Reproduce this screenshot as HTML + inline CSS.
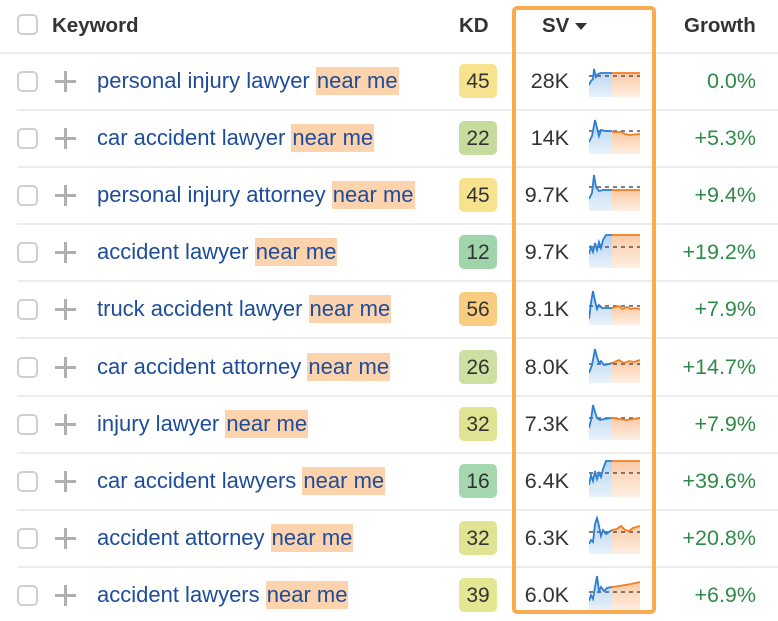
<!DOCTYPE html>
<html><head><meta charset="utf-8"><style>
body{margin:0;width:778px;height:621px;background:#fff;font-family:"Liberation Sans",sans-serif;position:relative;overflow:hidden}
.a{position:absolute}
.cb{position:absolute;left:17px;width:21px;height:21px;border:2px solid #cfcfcf;border-radius:5px;box-sizing:border-box;background:#fff}
.hd{font-weight:bold;font-size:20.5px;color:#333}
.kw{position:absolute;left:97px;font-size:22px;color:#1d4c9a;white-space:nowrap;line-height:28px}
.kw span{background:#fdd3ae;padding:1px 1px 2px}
.kd{position:absolute;left:459px;width:38px;height:34px;border-radius:5px;font-size:21px;color:#333;text-align:center;line-height:36px}
.sv{position:absolute;right:209px;font-size:21.5px;color:#333}
.gr{position:absolute;right:22px;font-size:21.5px;color:#2e8b47}
.ln{position:absolute;left:17px;right:0;height:2px;background:#ececec}
.pl{position:absolute;left:55px;width:21px;height:21px}
.pl:before{content:"";position:absolute;left:0;top:9px;width:21px;height:3px;background:#b0b0b0}
.pl:after{content:"";position:absolute;left:9px;top:0;width:3px;height:21px;background:#b0b0b0}
svg{position:absolute;left:589px}
</style></head><body>
<div class="cb" style="top:14px"></div>
<div class="a hd" style="left:52px;top:14px">Keyword</div>
<div class="a hd" style="left:459px;top:14px">KD</div>
<div class="a hd" style="left:542px;top:14px">SV</div>
<div class="a" style="left:575px;top:23px;width:0;height:0;border-left:6px solid transparent;border-right:6px solid transparent;border-top:7px solid #333"></div>
<div class="a hd" style="left:684px;top:14px">Growth</div>
<div class="a" style="left:0;right:0;top:52px;height:2px;background:#ececec"></div>

<div id="rows"></div>
<div class="a" style="left:512px;top:6px;width:144px;height:608px;border:4px solid #f9ac4f;border-radius:5px;box-sizing:border-box"></div>
<script>
var R=[
["personal injury lawyer ","45","#f7e38d","28K","0.0%","0,26 2,22 4,20 5,10 7,18 9,15 12,14 23,14","23,14 51,14",17],
["car accident lawyer ","22","#c7dc9c","14K","+5.3%","0,26 3,20 6,4 8,12 10,20 12,14 16,15 23,15","23,16 32,16 36,18 40,19 51,18",15],
["personal injury attorney ","45","#f7e38d","9.7K","+9.4%","0,26 3,20 5,2 7,14 10,18 14,17 23,17","23,17 51,17",14],
["accident lawyer ","12","#a0d5ab","9.7K","+19.2%","0,24 2,17 4,22 6,13 8,20 10,12 12,18 14,10 17,5 23,5","23,5 51,5",17],
["truck accident lawyer ","56","#f9cd7f","8.1K","+7.9%","0,32 2,16 4,4 6,14 8,22 10,18 13,21 23,21","23,21 30,19 33,22 38,20 42,22 46,21 51,22",19],
["car accident attorney ","26","#cde0a2","8.0K","+14.7%","0,28 3,20 6,4 8,12 10,18 12,16 15,20 20,19 23,18","23,18 30,15 35,18 40,16 45,17 51,15",19],
["injury lawyer ","32","#e0e492","7.3K","+7.9%","0,26 2,18 4,3 6,10 8,16 11,18 15,17 23,16","23,16 30,17 37,18 44,17 51,16",16],
["car accident lawyers ","16","#a6d8b0","6.4K","+39.6%","0,26 2,16 4,22 6,12 8,20 10,14 12,18 14,10 17,2 23,2","23,2 51,2",14],
["accident attorney ","32","#e0e492","6.3K","+20.8%","0,28 2,24 4,26 6,8 8,2 10,10 12,20 14,14 17,18 20,16 23,14","23,14 28,13 32,10 36,14 40,15 44,12 51,10",16],
["accident lawyers ","39","#e4e691","6.0K","+6.9%","0,28 2,22 4,26 6,14 8,3 10,18 12,14 15,18 18,15 23,14","23,14 30,13 36,12 42,11 51,9",19]];
var h="";
R.forEach(function(r,i){var c=81+i*57.1;
h+='<div class="cb" style="top:'+(c-10)+'px"></div><div class="pl" style="top:'+(c-10)+'px"></div>';
h+='<div class="kw" style="top:'+(c-14)+'px">'+r[0]+'<span>near me</span></div>';
h+='<div class="kd" style="top:'+(c-17)+'px;background:'+r[2]+'">'+r[1]+'</div>';
h+='<div class="sv" style="top:'+(c-12)+'px">'+r[3]+'</div>';
h+='<div class="gr" style="top:'+(c-12)+'px">'+r[4]+'</div>';
var b=r[5],o=r[6];
h+='<svg width="52" height="40" style="top:'+(c-22)+'px"><defs><linearGradient id="gb" x1="0" y1="0" x2="0" y2="1"><stop offset="0" stop-color="#b3d2ef"/><stop offset="1" stop-color="#e8f2fb"/></linearGradient><linearGradient id="go" x1="0" y1="0" x2="0" y2="1"><stop offset="0" stop-color="#fcc9a4"/><stop offset="1" stop-color="#feefe4"/></linearGradient></defs>'+
'<polygon points="'+b+' 23,38 0,38" fill="url(#gb)"/><polygon points="'+o+' 51,38 23,38" fill="url(#go)"/>'+
'<line x1="0" y1="'+r[7]+'" x2="51" y2="'+r[7]+'" stroke="#555" stroke-width="1.5" stroke-dasharray="4,4"/>'+
'<polyline points="'+b+'" fill="none" stroke="#2a7fd4" stroke-width="1.8"/><polyline points="'+o+'" fill="none" stroke="#f47d20" stroke-width="1.8"/></svg>';
if(i<9)h+='<div class="ln" style="top:'+(c+28)+'px"></div>';
});
document.getElementById("rows").innerHTML=h;
</script>
</body></html>
